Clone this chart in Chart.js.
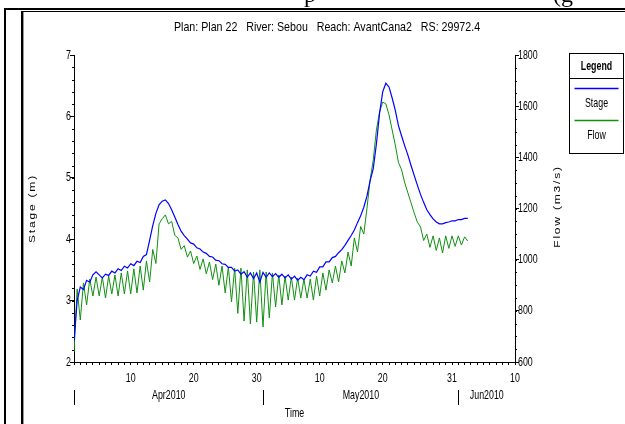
<!DOCTYPE html>
<html>
<head>
<meta charset="utf-8">
<script src="https://cdn.jsdelivr.net/npm/chart.js@4.4.1/dist/chart.umd.min.js"></script>
<style>
  html, body { margin: 0; padding: 0; background: #fff; }
  #wrap { position: relative; width: 625px; height: 424px; overflow: hidden; }
  #chart { position: absolute; left: 0; top: 0; }
  .rule { position: absolute; background: #000; }
  .doc { position: absolute; font-family: 'Liberation Serif', 'Times New Roman', serif; font-size: 24px; line-height: 24px; color: #000; }
</style>
</head>
<body>
<div id="wrap">
  <canvas id="chart" width="625" height="424"></canvas>
  <div class="doc" style="left:304px; top:-18px">p</div>
  <div class="doc" style="left:553px; top:-18px">(g</div>
  <div class="rule" style="left:4px; top:8px; width:621px; height:2px"></div>
  <div class="rule" style="left:4px; top:8px; width:2px; height:416px"></div>
  <div class="rule" style="left:21px; top:11px; width:604px; height:1px"></div>
  <div class="rule" style="left:21px; top:11px; width:2px; height:413px"></div>
  <div class="rule" style="left:23px; top:12px; width:1px; height:412px; background:#999"></div>
</div>
<script>
// Stage and flow sampled every 12 hours from 1 Apr 2010 00:00
const sampleStepDays = 0.5;

const stageM = [
  2.33, 3.0, 3.22, 3.18, 3.33, 3.3, 3.42, 3.47, 3.42, 3.37,
  3.43, 3.41, 3.48, 3.45, 3.52, 3.49, 3.56, 3.53, 3.6, 3.57,
  3.64, 3.62, 3.72, 3.75, 3.98, 4.22, 4.42, 4.56, 4.62, 4.64,
  4.58, 4.48, 4.36, 4.24, 4.13, 4.06, 4.0, 3.94, 3.92, 3.86,
  3.84, 3.79, 3.77, 3.72, 3.71, 3.66, 3.65, 3.6, 3.59, 3.54,
  3.54, 3.48, 3.5, 3.43, 3.47, 3.38, 3.45, 3.36, 3.45, 3.3,
  3.46, 3.38, 3.45, 3.39, 3.44, 3.38, 3.43, 3.37, 3.42, 3.35,
  3.4, 3.33, 3.38, 3.34, 3.42, 3.4, 3.48, 3.46, 3.55, 3.55,
  3.63, 3.63, 3.7, 3.72, 3.78, 3.83, 3.9, 3.98, 4.06, 4.15,
  4.27, 4.38, 4.52, 4.7, 4.95, 5.15, 5.55, 6.05, 6.4, 6.54,
  6.48, 6.3, 6.1, 5.85, 5.68, 5.52, 5.37, 5.2, 5.04, 4.88,
  4.73, 4.6, 4.48, 4.4, 4.33, 4.28, 4.25, 4.25, 4.27, 4.28,
  4.3, 4.3, 4.32, 4.32, 4.34, 4.34
];

const flowCms = [
  639, 885, 764, 909, 823, 924, 858, 932, 858, 932,
  850, 936, 866, 940, 858, 948, 866, 956, 866, 964,
  870, 975, 881, 995, 913, 1040, 985, 1140, 1160, 1175,
  1140, 1150, 1095, 1085, 1040, 1055, 1010, 1034, 985, 1014,
  962, 1003, 945, 991, 922, 983, 900, 975, 870, 971,
  835, 967, 790, 967, 760, 960, 749, 952, 756, 960,
  737, 952, 772, 948, 815, 940, 823, 936, 842, 932,
  842, 928, 850, 924, 850, 924, 842, 936, 858, 948,
  881, 960, 909, 975, 913, 995, 948, 1030, 975, 1085,
  1030, 1130, 1100, 1200, 1311, 1390, 1507, 1577, 1616, 1609,
  1566, 1507, 1448, 1380, 1351, 1300, 1261, 1222, 1182, 1147,
  1128, 1075, 1100, 1048, 1093, 1036, 1085, 1026, 1093, 1044,
  1093, 1052, 1093, 1057, 1089, 1073
];

// labelled day ticks (days after 1 Apr) and the day-of-month they show
const dayTicks = [9, 19, 29, 39, 49, 60, 70];
const dayTickLabels = ['10', '20', '30', '10', '20', '31', '10'];
const monthNames = ['Apr2010', 'May2010', 'Jun2010'];
const monthStarts = [0, 30, 61];

const stageTicks = [2, 3, 4, 5, 6, 7];
const flowTicks = [600, 800, 1000, 1200, 1400, 1600, 1800];

const chartTitle = 'Plan: Plan 22   River: Sebou   Reach: AvantCana2   RS: 29972.4';

const SANS = '"Liberation Sans", Arial, sans-serif';
const SQUEEZE = 0.68;

function drawText(ctx, text, x, y, o) {
  ctx.save();
  ctx.translate(x, y);
  if (o.rotate) ctx.rotate(o.rotate);
  ctx.scale(o.sx || 1, o.sy || 1);
  ctx.font = o.font;
  ctx.letterSpacing = o.spacing || '0px';
  ctx.textAlign = o.align || 'center';
  ctx.textBaseline = 'middle';
  ctx.fillStyle = '#000';
  ctx.fillText(text, 0, 0);
  ctx.restore();
}

const hecDecor = {
  id: 'hecDecor',
  afterDraw(chart) {
    const { ctx, chartArea: a, scales: { x, y, y1 } } = chart;
    ctx.save();
    ctx.strokeStyle = '#000';
    ctx.lineWidth = 1;

    // minor ticks
    ctx.beginPath();
    for (let v = 2; v <= 7.0001; v += 0.2) {
      const py = Math.round(y.getPixelForValue(v)) + 0.5;
      ctx.moveTo(a.left - 2, py); ctx.lineTo(a.left, py);
    }
    for (let v = 600; v <= 1800; v += 50) {
      const py = Math.round(y1.getPixelForValue(v)) + 0.5;
      ctx.moveTo(a.right, py); ctx.lineTo(a.right + 2, py);
    }
    ctx.stroke();

    // tick labels
    const tickFont = '13px ' + SANS;
    stageTicks.forEach(v => drawText(ctx, String(v), a.left - 3, y.getPixelForValue(v), { font: tickFont, align: 'right', sx: SQUEEZE }));
    flowTicks.forEach(v => drawText(ctx, String(v), a.right + 3, y1.getPixelForValue(v), { font: tickFont, align: 'left', sx: SQUEEZE }));
    dayTicks.forEach((d, i) => drawText(ctx, dayTickLabels[i], x.getPixelForValue(d), a.bottom + 16, { font: tickFont, sx: SQUEEZE }));

    // month row
    ctx.beginPath();
    monthStarts.forEach((d, i) => {
      const px = Math.round(x.getPixelForValue(d)) + 0.5;
      ctx.moveTo(px, a.bottom + 28); ctx.lineTo(px, a.bottom + 43);
      const end = i + 1 < monthStarts.length ? monthStarts[i + 1] : x.max;
      drawText(ctx, monthNames[i], (px + x.getPixelForValue(end)) / 2, a.bottom + 33, { font: tickFont, sx: SQUEEZE });
    });
    ctx.stroke();

    // titles
    drawText(ctx, 'Time', (a.left + a.right) / 2, a.bottom + 51, { font: tickFont, sx: SQUEEZE });
    drawText(ctx, chartTitle, 327, 27, { font: '13px ' + SANS, sx: 0.82 });
    const midY = (a.top + a.bottom) / 2;
    drawText(ctx, 'Stage (m)', 32, midY, { font: '12px ' + SANS, rotate: -Math.PI / 2, sy: 0.8, spacing: '1.8px' });
    drawText(ctx, 'Flow (m3/s)', 557, midY - 2, { font: '12px ' + SANS, rotate: -Math.PI / 2, sy: 0.8, spacing: '1.8px' });

    // legend box
    const lx = 569.5, ly = 53.5, lw = 54, lh = 100;
    ctx.strokeRect(lx, ly, lw, lh);
    ctx.beginPath();
    ctx.moveTo(lx, 78.5); ctx.lineTo(lx + lw, 78.5);
    ctx.stroke();
    const cx = lx + lw / 2;
    drawText(ctx, 'Legend', cx, 66, { font: 'bold 13px ' + SANS, sx: SQUEEZE });
    chart.data.datasets.forEach((ds, i) => {
      const ry = 88.5 + i * 32;
      ctx.strokeStyle = ds.borderColor;
      ctx.lineWidth = 1.5;
      ctx.beginPath();
      ctx.moveTo(lx + 5, ry); ctx.lineTo(lx + lw - 5, ry);
      ctx.stroke();
      drawText(ctx, ds.label, cx, ry + 15, { font: tickFont, sx: SQUEEZE });
    });
    ctx.restore();
  }
};

const toPoints = vals => vals.map((v, i) => ({ x: i * sampleStepDays, y: v }));

new Chart(document.getElementById('chart'), {
  type: 'line',
  data: {
    datasets: [
      { label: 'Stage', data: toPoints(stageM), yAxisID: 'y', borderColor: '#0000ff', borderWidth: 1.2, pointRadius: 0, tension: 0 },
      { label: 'Flow', data: toPoints(flowCms), yAxisID: 'y1', borderColor: '#109010', borderWidth: 1, pointRadius: 0, tension: 0 }
    ]
  },
  options: {
    responsive: false,
    animation: false,
    events: [],
    layout: { padding: { top: 55, left: 0, right: 0, bottom: 0 } },
    plugins: { legend: { display: false }, title: { display: false }, tooltip: { enabled: false } },
    scales: {
      x: {
        type: 'linear', min: 0, max: 70,
        afterFit: s => { s.height = 62; },
        afterBuildTicks: s => {
          const t = [];
          for (let d = 0; d <= 70; d++) t.push({ value: d });
          s.ticks = t;
        },
        ticks: { display: false },
        grid: { drawOnChartArea: false, tickLength: 3, color: '#000' },
        border: { color: '#000' }
      },
      y: {
        position: 'left', min: 2, max: 7,
        afterFit: s => { s.width = 74; },
        ticks: { display: false, stepSize: 1 },
        grid: { drawOnChartArea: false, tickLength: 4, color: '#000' },
        border: { color: '#000' }
      },
      y1: {
        position: 'right', min: 600, max: 1800,
        afterFit: s => { s.width = 110; },
        ticks: { display: false, stepSize: 200 },
        grid: { drawOnChartArea: false, tickLength: 4, color: '#000' },
        border: { color: '#000' }
      }
    }
  },
  plugins: [hecDecor]
});
</script>
</body>
</html>
